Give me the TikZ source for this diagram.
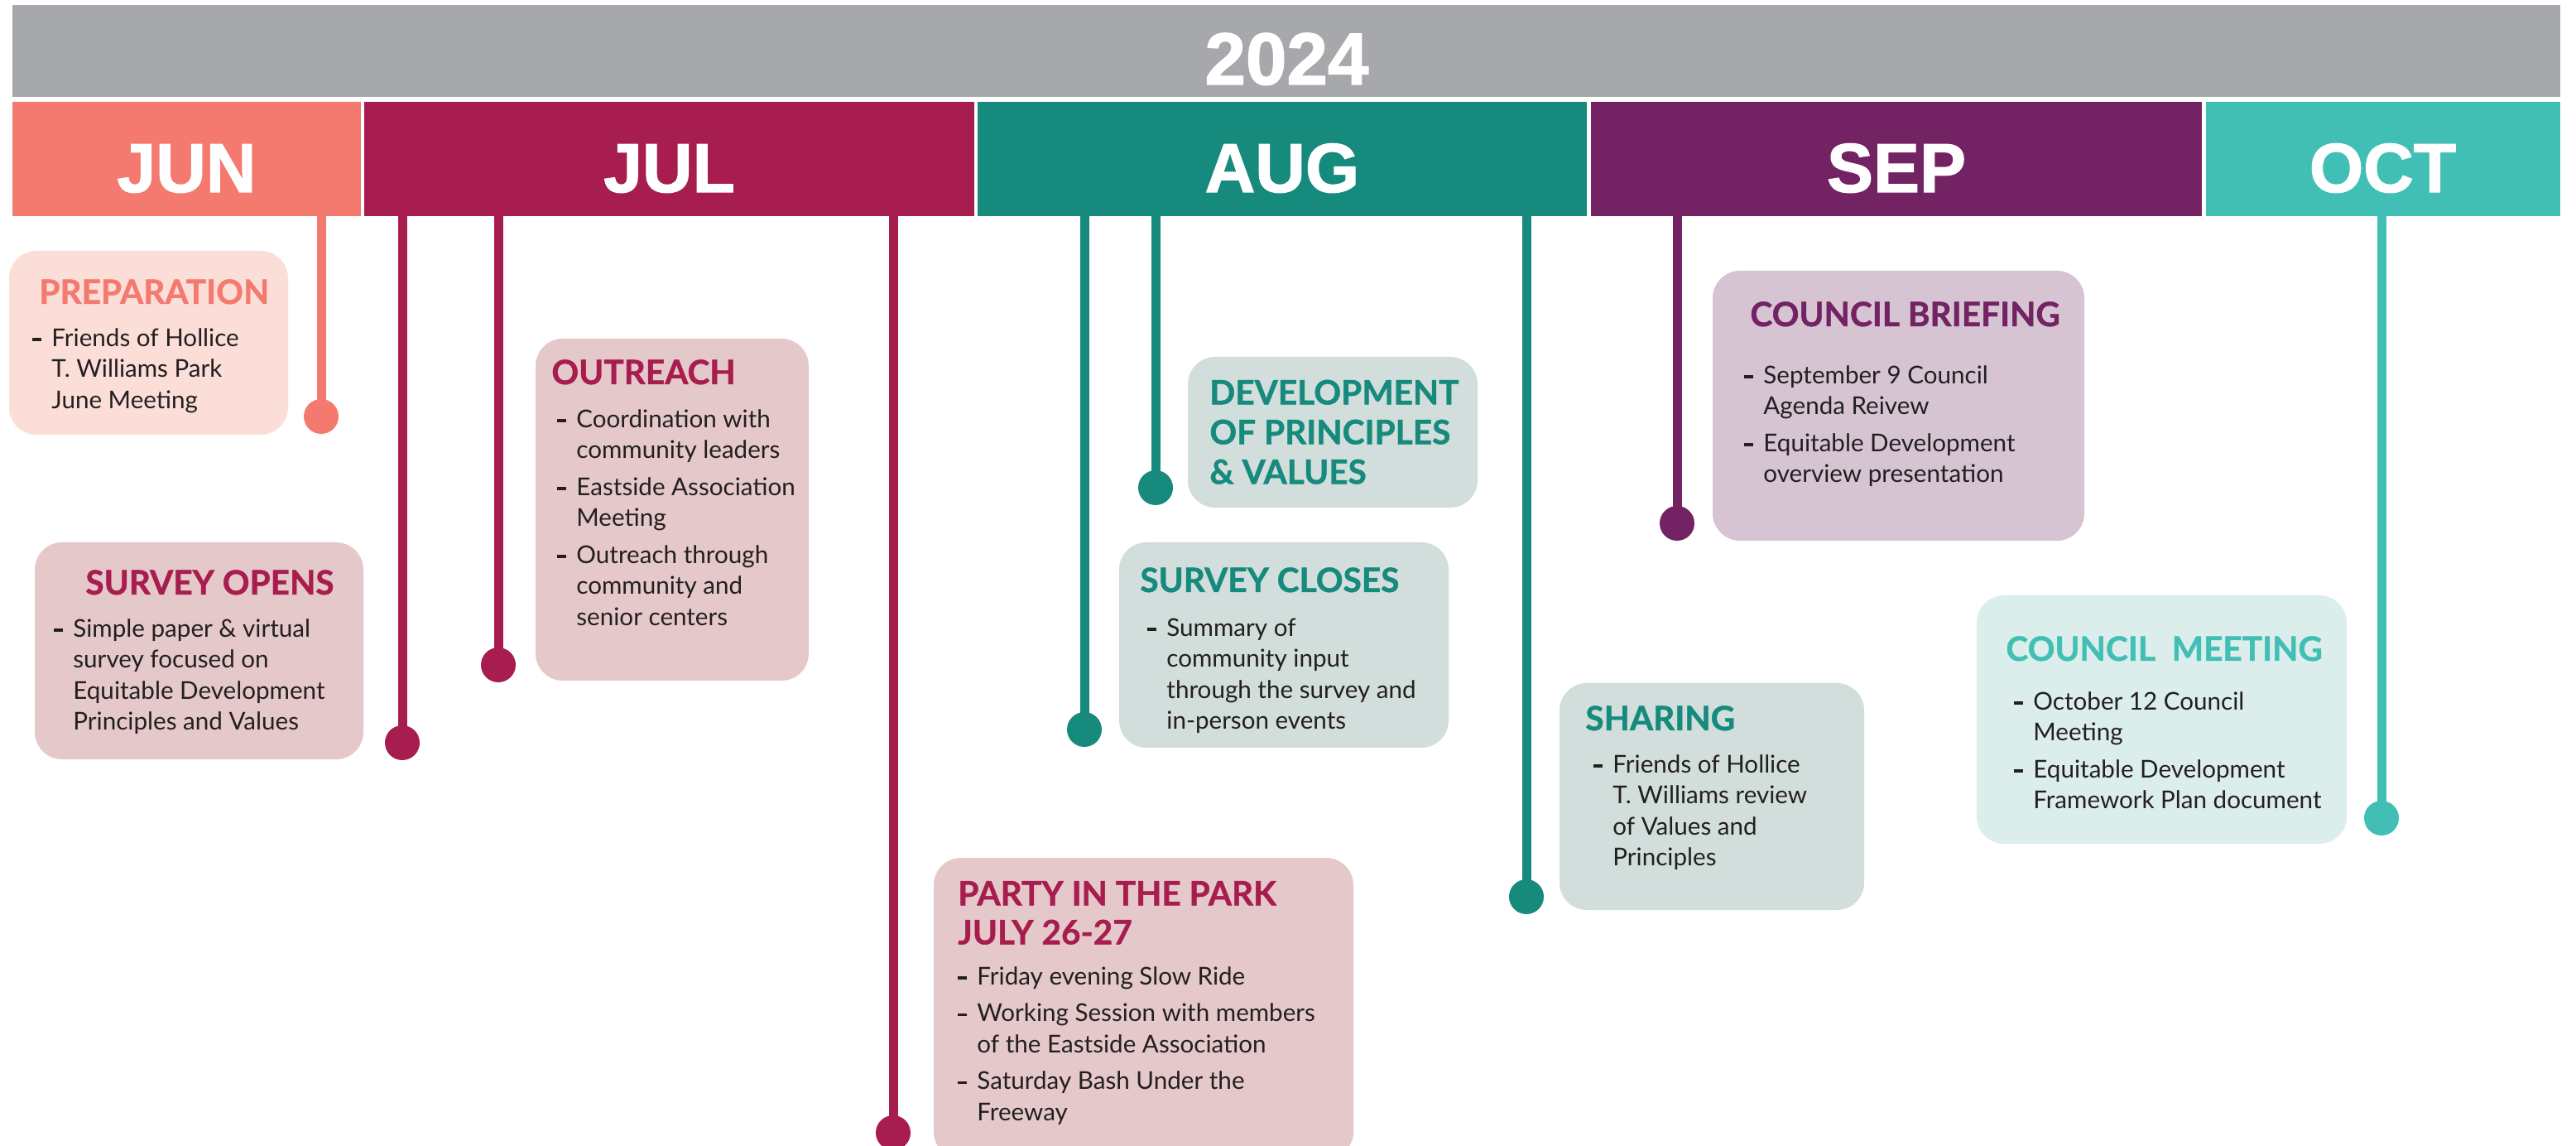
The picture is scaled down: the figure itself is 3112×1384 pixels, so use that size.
\documentclass[tikz,border=0pt]{standalone}
\usepackage{fontspec}
\setmainfont{Lato}
\newfontfamily\monthfont[FakeBold=1.5]{Liberation Sans}
\usetikzlibrary{fit}
\definecolor{gbar}{HTML}{A7A8AB}
\definecolor{cjun}{HTML}{F47A70}
\definecolor{cjul}{HTML}{A71D4F}
\definecolor{caug}{HTML}{168A7D}
\definecolor{csep}{HTML}{732263}
\definecolor{coct}{HTML}{42BFB4}
\definecolor{fjun}{HTML}{FCDED8}
\definecolor{fjul}{HTML}{E5C8CA}
\definecolor{faug}{HTML}{D1DEDB}
\definecolor{fsep}{HTML}{D6C4D3}
\definecolor{foct}{HTML}{DBEEEB}
\definecolor{bodyc}{HTML}{231F20}
\newcommand\bul[1]{\makebox[11.5pt][l]{\rule[3.4pt]{5.2pt}{1.7pt}}#1}
\newcommand\cnt[1]{\hspace*{11.5pt}#1}
\newcommand\ttlfont{\bfseries\addfontfeatures{FakeBold=1}}
\begin{document}
\begin{tikzpicture}[x=0.5pt,y=-0.5pt,
  bar/.style={inner sep=0pt, draw=none},
  boxn/.style={inner sep=0pt, rounded corners=16.5pt, draw=none},
  dotn/.style={circle, inner sep=0pt, minimum size=21pt},
  conn/.style={line width=5.5pt},
  mlabel/.style={font=\monthfont\bfseries\fontsize{42}{50}\selectfont, text=white, anchor=base, inner sep=0pt},
  ttl/.style={font=\ttlfont\fontsize{20.3}{24}\selectfont, inner sep=0pt, anchor=base west},
  ttlm/.style={font=\ttlfont\fontsize{20.3}{24}\selectfont, inner sep=0pt, align=left, anchor=north west},
  bodyt/.style={font=\fontsize{14.8}{18.75}\selectfont, text=bodyc, inner sep=0pt, align=left, anchor=north west},
]
\clip (0,0) rectangle (3112,1384);
\fill[white] (0,0) rectangle (3112,1384);

% year and months
\node[bar, fill=gbar, fit={(15,6)(3093,117)}] (year) {};
\node[mlabel, font=\monthfont\bfseries\fontsize{44.5}{50}\selectfont] (yearL) at (1554.5,102) {2024};
\node[bar, fill=cjun, fit={(15,123)(436,261)}] (jun) {};
\node[bar, fill=cjul, fit={(440,123)(1177,261)}] (jul) {};
\node[bar, fill=caug, fit={(1181,123)(1917,261)}] (aug) {};
\node[bar, fill=csep, fit={(1922,123)(2660,261)}] (sep) {};
\node[bar, fill=coct, fit={(2665,123)(3093,261)}] (oct) {};
\node[mlabel] (junL) at (225.5,232) {JUN};
\node[mlabel] (julL) at (808.5,232) {JUL};
\node[mlabel] (augL) at (1549,232) {AUG};
\node[mlabel] (sepL) at (2291,232) {SEP};
\node[mlabel] (octL) at (2878.5,232) {OCT};

% event boxes
\node[boxn, fill=fjun, fit={(11,303)(348,525)}] (prep) {};
\node[boxn, fill=fjul, fit={(42,655)(439,917)}] (sopen) {};
\node[boxn, fill=fjul, fit={(647,409)(977,822)}] (outr) {};
\node[boxn, fill=fjul, fit={(1128,1036)(1635,1400)}] (party) {};
\node[boxn, fill=faug, fit={(1435,431)(1785,613)}] (dev) {};
\node[boxn, fill=faug, fit={(1352,655)(1750,903)}] (sclose) {};
\node[boxn, fill=faug, fit={(1884,825)(2252,1099)}] (share) {};
\node[boxn, fill=fsep, fit={(2069,327)(2518,653)}] (brief) {};
\node[boxn, fill=foct, fit={(2388,719)(2835,1019)}] (cmeet) {};

% dot positions
\coordinate (dprep) at (388,503);
\coordinate (dsopen) at (486,897);
\coordinate (doutr) at (602,803);
\coordinate (dparty) at (1079,1368);
\coordinate (dsclose) at (1310,881);
\coordinate (ddev) at (1396,589);
\coordinate (dshare) at (1844,1083);
\coordinate (dbrief) at (2026,632);
\coordinate (dcmeet) at (2877,988);

% stems
\draw[conn, draw=cjun] (dprep |- jun.south) -- (dprep);
\draw[conn, draw=cjul] (dsopen |- jul.south) -- (dsopen);
\draw[conn, draw=cjul] (doutr |- jul.south) -- (doutr);
\draw[conn, draw=cjul] (dparty |- jul.south) -- (dparty);
\draw[conn, draw=caug] (dsclose |- aug.south) -- (dsclose);
\draw[conn, draw=caug] (ddev |- aug.south) -- (ddev);
\draw[conn, draw=caug] (dshare |- aug.south) -- (dshare);
\draw[conn, draw=csep] (dbrief |- sep.south) -- (dbrief);
\draw[conn, draw=coct] (dcmeet |- oct.south) -- (dcmeet);

% dots
\node[dotn, fill=cjun] (nprep) at (dprep) {};
\node[dotn, fill=cjul] (nsopen) at (dsopen) {};
\node[dotn, fill=cjul] (noutr) at (doutr) {};
\node[dotn, fill=cjul] (nparty) at (dparty) {};
\node[dotn, fill=caug] (nsclose) at (dsclose) {};
\node[dotn, fill=caug] (ndev) at (ddev) {};
\node[dotn, fill=caug] (nshare) at (dshare) {};
\node[dotn, fill=csep] (nbrief) at (dbrief) {};
\node[dotn, fill=coct] (ncmeet) at (dcmeet) {};

% titles
\node[ttl, text=cjun] (prepT) at (47,367) {PREPARATION};
\node[ttl, text=cjul] (sopenT) at (103,718) {SURVEY OPENS};
\node[ttl, text=cjul] (outrT) at (666,464) {OUTREACH};
\node[ttlm, text=cjul, font=\ttlfont\fontsize{20.3}{23.5}\selectfont] (partyT) at (1157,1059) {\rule{0pt}{17pt}PARTY IN THE PARK\\ JULY 26-27};
\node[ttlm, text=caug] (devT) at (1461,454) {\rule{0pt}{17pt}DEVELOPMENT\\ OF PRINCIPLES\\ \& VALUES};
\node[ttl, text=caug] (scloseT) at (1377,715) {SURVEY CLOSES};
\node[ttl, text=caug] (shareT) at (1915,882) {SHARING};
\node[ttl, text=csep] (briefT) at (2114,394) {COUNCIL BRIEFING};
\node[ttl, text=coct] (cmeetT) at (2423,798) {COUNCIL\ \ MEETING};

% bodies
\node[bodyt] (prepB) at (39,394) {\rule{0pt}{12pt}\bul{Friends of Hollice}\\ \cnt{T. Williams Park}\\ \cnt{June Meeting}};
\node[bodyt] (sopenB) at (65,745) {\rule{0pt}{12pt}\bul{Simple paper \& virtual}\\ \cnt{survey focused on}\\ \cnt{Equitable Development}\\ \cnt{Principles and Values}};
\node[bodyt] (outrB) at (673,492) {\rule{0pt}{12pt}\bul{Coordination with}\\ \cnt{community leaders}\\[3.5pt] \bul{Eastside Association}\\ \cnt{Meeting}\\[3.5pt] \bul{Outreach through}\\ \cnt{community and}\\ \cnt{senior centers}};
\node[bodyt] (partyB) at (1157,1165) {\rule{0pt}{12pt}\bul{Friday evening Slow Ride}\\[3.5pt] \bul{Working Session with members}\\ \cnt{of the Eastside Association}\\[3.5pt] \bul{Saturday Bash Under the}\\ \cnt{Freeway}};
\node[bodyt] (scloseB) at (1386,744) {\rule{0pt}{12pt}\bul{Summary of}\\ \cnt{community input}\\ \cnt{through the survey and}\\ \cnt{in-person events}};
\node[bodyt] (shareB) at (1925,909) {\rule{0pt}{12pt}\bul{Friends of Hollice}\\ \cnt{T. Williams review}\\ \cnt{of Values and}\\ \cnt{Principles}};
\node[bodyt] (briefB) at (2107,439) {\rule{0pt}{12pt}\bul{September 9 Council}\\ \cnt{Agenda Reivew}\\[3.5pt] \bul{Equitable Development}\\ \cnt{overview presentation}};
\node[bodyt] (cmeetB) at (2433,833) {\rule{0pt}{12pt}\bul{October 12 Council}\\ \cnt{Meeting}\\[3.5pt] \bul{Equitable Development}\\ \cnt{Framework Plan document}};
\end{tikzpicture}
\end{document}
